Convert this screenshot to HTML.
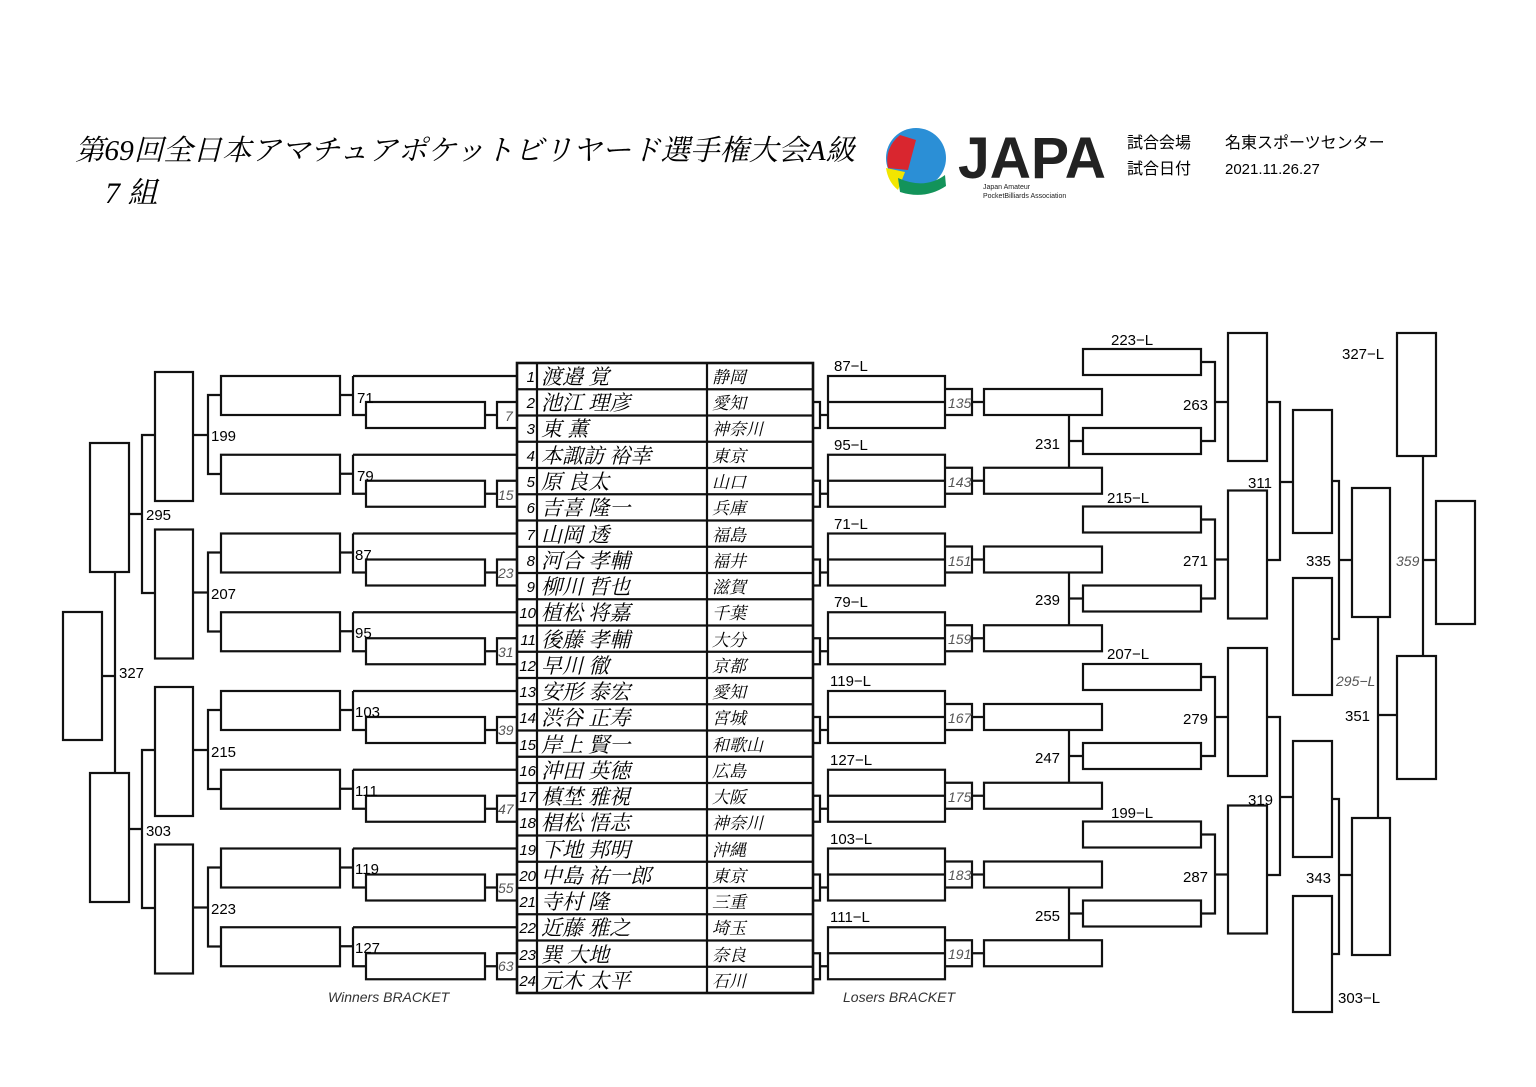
<!DOCTYPE html>
<html><head><meta charset="utf-8">
<style>
html,body{margin:0;padding:0;background:#fff;}
svg{display:block;}
.s{font-family:"Liberation Sans","Noto Sans CJK JP",sans-serif;}
.m{font-family:"Liberation Serif","Noto Serif CJK SC",serif;font-style:italic;}
.g{fill:#555;font-style:italic;}
</style></head><body>
<svg width="1536" height="1087" viewBox="0 0 1536 1087" xmlns="http://www.w3.org/2000/svg">
<rect width="1536" height="1087" fill="#fff"/>
<!-- Header -->
<text class="m" x="75" y="160" font-size="29" textLength="780" lengthAdjust="spacingAndGlyphs">第69回全日本アマチュアポケットビリヤード選手権大会A級</text>
<text class="m" x="105" y="203" font-size="30">7 組</text>
<!-- logo -->
<g>
<circle cx="916" cy="158" r="30" fill="#2b8fd6"/>
<path d="M900,135 L916,140 L908,170 L888,168 Q884,148 900,135Z" fill="#d9262f"/>
<path d="M886,168 L905,172 L898,190 Q888,182 886,168Z" fill="#f2e600"/>
<path d="M898,178 Q925,190 945,175 L946,186 Q925,200 900,192Z" fill="#13935a"/>
<text x="958" y="178" font-family="Liberation Sans,sans-serif" font-weight="bold" font-size="58" textLength="148" lengthAdjust="spacingAndGlyphs" fill="#222">JAPA</text>
<text x="983" y="189" font-family="Liberation Sans,sans-serif" font-size="7" fill="#222">Japan Amateur</text>
<text x="983" y="198" font-family="Liberation Sans,sans-serif" font-size="7" fill="#222">PocketBilliards Association</text>
</g>
<text class="s" x="1127" y="148" font-size="16">試合会場</text>
<text class="s" x="1225" y="148" font-size="16">名東スポーツセンター</text>
<text class="s" x="1127" y="174" font-size="16">試合日付</text>
<text class="s" x="1225" y="174" font-size="15">2021.11.26.27</text>

<g fill="none" stroke="#111" stroke-width="2.2">
<g id="LG">
 <path d="M353,376 H517 M353,376 V415 H366 M340,395 H353 M517,402 H497 V428 H517 M485,415 H497"/>
 <rect x="221" y="376" width="119" height="39"/><rect x="366" y="402" width="119" height="26"/>
 <g transform="translate(0,78.75)">
 <path d="M353,376 H517 M353,376 V415 H366 M340,395 H353 M517,402 H497 V428 H517 M485,415 H497"/>
 <rect x="221" y="376" width="119" height="39"/><rect x="366" y="402" width="119" height="26"/>
 </g>
 <rect x="155" y="372" width="38" height="129"/>
 <path d="M221,395 H208 V474 H221 M193,435 H208"/>
</g>
<use href="#LG" transform="translate(0,157.5)"/>
<use href="#LG" transform="translate(0,315)"/>
<use href="#LG" transform="translate(0,472.5)"/>
<rect x="90" y="443" width="39" height="129"/>
<path d="M155,435 H142 V593 H155 M129,514 H142"/>
<rect x="90" y="773" width="39" height="129"/>
<path d="M155,750 H142 V908 H155 M129,829 H142"/>
<rect x="63" y="612" width="39" height="128"/>
<path d="M115,572 V773 M102,676 H115"/>

<g id="RG">
 <path d="M813,402 H820 V428 H813 M820,415 H828 M828,402 H945 M945,389 H972 V415 H945 M972,402 H984"/>
 <rect x="828" y="376" width="117" height="52"/>
 <rect x="984" y="389" width="118" height="26"/>
</g>
<use href="#RG" transform="translate(0,78.75)"/>
<use href="#RG" transform="translate(0,157.5)"/>
<use href="#RG" transform="translate(0,236.25)"/>
<use href="#RG" transform="translate(0,315)"/>
<use href="#RG" transform="translate(0,393.75)"/>
<use href="#RG" transform="translate(0,472.5)"/>
<use href="#RG" transform="translate(0,551.25)"/>
<g id="RJ">
 <path d="M1069,415 V467 M1069,441 H1083 M1201,362 H1215 V441 H1201 M1215,402 H1228"/>
 <rect x="1083" y="428" width="118" height="26"/>
 <rect x="1083" y="349" width="118" height="26"/>
 <rect x="1228" y="333" width="39" height="128"/>
</g>
<use href="#RJ" transform="translate(0,157.5)"/>
<use href="#RJ" transform="translate(0,315)"/>
<use href="#RJ" transform="translate(0,472.5)"/>
<path d="M1267,402 H1280 V560 H1267 M1280,482 H1293"/>
<rect x="1293" y="410" width="39" height="123"/>
<path d="M1267,717 H1280 V875 H1267 M1280,797 H1293"/>
<rect x="1293" y="741" width="39" height="116"/>
<rect x="1293" y="578" width="39" height="117"/>
<rect x="1293" y="896" width="39" height="116"/>
<path d="M1332,481 H1339 V639 H1332 M1339,560 H1352"/>
<rect x="1352" y="488" width="38" height="129"/>
<path d="M1332,799 H1339 V954 H1332 M1339,875 H1352"/>
<rect x="1352" y="818" width="38" height="137"/>
<path d="M1378,617 V818 M1378,715 H1397"/>
<rect x="1397" y="656" width="39" height="123"/>
<rect x="1397" y="333" width="39" height="123"/>
<path d="M1423,456 V656 M1423,560 H1436"/>
<rect x="1436" y="501" width="39" height="123"/>

<rect x="517" y="363" width="296" height="630" stroke-width="2.6"/>
<path d="M537,363 V993 M707,363 V993"/>
<path d="M517,389.25H813 M517,415.5H813 M517,441.75H813 M517,468H813 M517,494.25H813 M517,520.5H813 M517,546.75H813 M517,573H813 M517,599.25H813 M517,625.5H813 M517,651.75H813 M517,678H813 M517,704.25H813 M517,730.5H813 M517,756.75H813 M517,783H813 M517,809.25H813 M517,835.5H813 M517,861.75H813 M517,888H813 M517,914.25H813 M517,940.5H813 M517,966.75H813"/>
</g>

<g class="s" font-style="italic" font-size="15" text-anchor="end">
<text x="535" y="382">1</text><text x="535" y="408">2</text><text x="535" y="434">3</text><text x="535" y="461">4</text><text x="535" y="487">5</text><text x="535" y="513">6</text><text x="535" y="540">7</text><text x="535" y="566">8</text><text x="535" y="592">9</text><text x="536" y="618">10</text><text x="536" y="645">11</text><text x="536" y="671">12</text><text x="536" y="697">13</text><text x="536" y="723">14</text><text x="536" y="750">15</text><text x="536" y="776">16</text><text x="536" y="802">17</text><text x="536" y="828">18</text><text x="536" y="855">19</text><text x="536" y="881">20</text><text x="536" y="907">21</text><text x="536" y="933">22</text><text x="536" y="960">23</text><text x="536" y="986">24</text>
</g>
<g class="m" font-size="21">
<text x="541" y="384">渡邉 覚</text><text x="541" y="410">池江 理彦</text><text x="541" y="436">東 薫</text><text x="541" y="463">本諏訪 裕幸</text><text x="541" y="489">原 良太</text><text x="541" y="515">吉喜 隆一</text><text x="541" y="542">山岡 透</text><text x="541" y="568">河合 孝輔</text><text x="541" y="594">柳川 哲也</text><text x="541" y="620">植松 将嘉</text><text x="541" y="647">後藤 孝輔</text><text x="541" y="673">早川 徹</text><text x="541" y="699">安形 泰宏</text><text x="541" y="725">渋谷 正寿</text><text x="541" y="752">岸上 賢一</text><text x="541" y="778">沖田 英徳</text><text x="541" y="804">槙埜 雅視</text><text x="541" y="830">椙松 悟志</text><text x="541" y="857">下地 邦明</text><text x="541" y="883">中島 祐一郎</text><text x="541" y="909">寺村 隆</text><text x="541" y="935">近藤 雅之</text><text x="541" y="962">巽 大地</text><text x="541" y="988">元木 太平</text>
</g>
<g class="m" font-size="17">
<text x="712" y="383">静岡</text><text x="712" y="409">愛知</text><text x="712" y="435">神奈川</text><text x="712" y="462">東京</text><text x="712" y="488">山口</text><text x="712" y="514">兵庫</text><text x="712" y="541">福島</text><text x="712" y="567">福井</text><text x="712" y="593">滋賀</text><text x="712" y="619">千葉</text><text x="712" y="646">大分</text><text x="712" y="672">京都</text><text x="712" y="698">愛知</text><text x="712" y="724">宮城</text><text x="712" y="751">和歌山</text><text x="712" y="777">広島</text><text x="712" y="803">大阪</text><text x="712" y="829">神奈川</text><text x="712" y="856">沖縄</text><text x="712" y="882">東京</text><text x="712" y="908">三重</text><text x="712" y="934">埼玉</text><text x="712" y="961">奈良</text><text x="712" y="987">石川</text>
</g>

<g class="s" font-size="15">
<text x="357" y="403">71</text><text x="357" y="481">79</text><text x="355" y="560">87</text><text x="355" y="638">95</text><text x="355" y="717">103</text><text x="355" y="796">111</text><text x="355" y="874">119</text><text x="355" y="953">127</text>
<text x="211" y="441">199</text><text x="211" y="599">207</text><text x="211" y="757">215</text><text x="211" y="914">223</text>
<text x="146" y="520">295</text><text x="146" y="836">303</text><text x="119" y="678">327</text>
</g>
<g class="s g" font-size="14" fill="#333">
<text x="505" y="421">7</text><text x="498" y="500">15</text><text x="498" y="578">23</text><text x="498" y="657">31</text><text x="498" y="735">39</text><text x="498" y="814">47</text><text x="498" y="893">55</text><text x="498" y="971">63</text>
</g>
<text class="s" x="328" y="1002" font-size="14" font-style="italic" fill="#333">Winners BRACKET</text>
<text class="s" x="843" y="1002" font-size="14" font-style="italic" fill="#333">Losers BRACKET</text>

<g class="s" font-size="15">
<text x="834" y="371">87−L</text><text x="834" y="450">95−L</text><text x="834" y="529">71−L</text><text x="834" y="607">79−L</text><text x="830" y="686">119−L</text><text x="830" y="765">127−L</text><text x="830" y="844">103−L</text><text x="830" y="922">111−L</text>
<text x="1111" y="345">223−L</text><text x="1107" y="503">215−L</text><text x="1107" y="659">207−L</text><text x="1111" y="818">199−L</text>
<text x="1035" y="449">231</text><text x="1035" y="605">239</text><text x="1035" y="763">247</text><text x="1035" y="921">255</text>
<text x="1183" y="410">263</text><text x="1183" y="566">271</text><text x="1183" y="724">279</text><text x="1183" y="882">287</text>
<text x="1248" y="488">311</text><text x="1248" y="805">319</text>
<text x="1306" y="566">335</text><text x="1306" y="883">343</text>
<text x="1345" y="721">351</text><text x="1342" y="359">327−L</text>
<text x="1338" y="1003">303−L</text>
</g>
<g class="s g" font-size="14">
<text x="948" y="408">135</text><text x="948" y="487">143</text><text x="948" y="566">151</text><text x="948" y="644">159</text><text x="948" y="723">167</text><text x="948" y="802">175</text><text x="948" y="880">183</text><text x="948" y="959">191</text>
<text x="1336" y="686">295−L</text>
<text x="1396" y="566">359</text>
</g>
</svg>
</body></html>
